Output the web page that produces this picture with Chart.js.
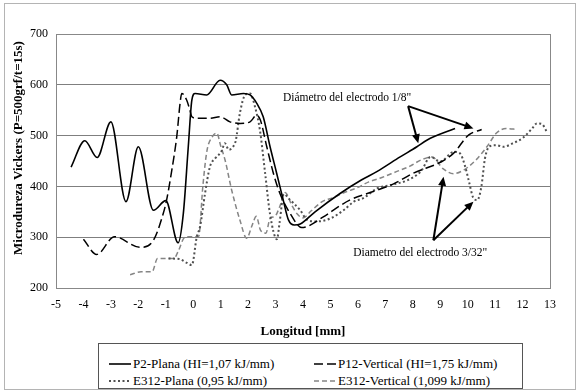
<!DOCTYPE html>
<html>
<head><meta charset="utf-8">
<title>Microdureza Vickers</title>
<script src="https://cdn.jsdelivr.net/npm/chart.js"></script>
<style>
  body { margin: 0; background: #fff; }
  #wrap { position: relative; width: 580px; height: 392px; }
  #frame { position: absolute; left: 4px; top: 3px; width: 572px; height: 387px; border: 1px solid #b4b4b4; box-sizing: border-box; }
  #chart { position: absolute; left: 0; top: 0; }
  #legend { position: absolute; left: 98px; top: 343px; width: 425px; height: 46px; border: 1px solid #555;
            box-sizing: border-box; background: #fff; font: 13px "Liberation Serif", "Times New Roman", serif; color: #000; }
  .item { position: absolute; white-space: nowrap; line-height: 14px; }
  .item svg { position: absolute; top: 5px; left: -24px; }
</style>
</head>
<body>
<div id="wrap">
  <div id="frame"></div>
  <canvas id="chart" width="580" height="392"></canvas>
  <div id="legend"></div>
</div>
<script>
// P2-Plana (HI=1,07 kJ/mm)
var p2X = [-4.45, -3.95, -3.5, -3.0, -2.45, -2.0, -1.45, -1.0, -0.55, -0.36, -0.18, -0.05, 0.07, 0.49, 0.98, 1.22, 1.4, 1.83, 2.07, 2.31, 2.55, 2.8, 3.04, 3.28, 3.47, 3.68, 3.9, 4.44, 5.35, 6.14, 6.69, 7.54, 8.15, 8.51, 9.54];
var p2Y = [438, 490, 457, 527, 370, 478, 353, 372, 289, 347, 478, 570, 583, 580, 609, 600, 580, 583, 580, 564, 537, 478, 426, 373, 334, 324, 326, 350, 386, 413, 429, 458, 478, 491, 514];

// P12-Vertical (HI=1,75 kJ/mm)
var p12X = [-4.0, -3.52, -2.87, -1.94, -1.45, -1.09, -0.97, -0.78, -0.6, -0.48, -0.42, -0.24, -0.12, -0.05, 0.13, 0.61, 0.98, 1.34, 1.71, 2.07, 2.31, 2.45, 2.68, 2.92, 3.16, 3.53, 3.95, 4.2, 4.74, 5.7, 6.56, 7.3, 8.02, 9.06, 9.48, 10.03, 10.51];
var p12Y = [296, 266, 301, 280, 294, 347, 373, 432, 498, 563, 583, 570, 550, 537, 534, 534, 537, 527, 524, 527, 540, 530, 478, 426, 386, 347, 319, 322, 340, 373, 390, 405, 426, 449, 465, 501, 512];

// E312-Plana (0,95 kJ/mm)
var e1X = [-0.9, -0.5, -0.25, -0.05, 0.13, 0.25, 0.43, 0.61, 0.8, 1.04, 1.15, 1.3, 1.45, 1.55, 1.7, 1.89, 2.07, 2.25, 2.43, 2.62, 2.8, 3.05, 3.15, 3.3, 3.5, 3.9, 4.15, 4.5, 5.0, 5.5, 5.85, 6.2, 6.7, 7.2, 7.8, 8.3, 8.65, 9.0, 9.5, 9.72, 9.91, 10.05, 10.2, 10.35, 10.5, 10.63, 10.8, 11.05, 11.3, 11.65, 12.0, 12.35, 12.52, 12.7, 12.88];
var e1Y = [258, 257, 250, 245, 301, 321, 386, 439, 455, 470, 485, 472, 478, 490, 544, 580, 583, 557, 511, 426, 345, 296, 330, 385, 375, 353, 334, 331, 337, 354, 370, 377, 396, 403, 412, 430, 458, 449, 468, 465, 439, 409, 378, 373, 400, 455, 479, 481, 478, 485, 495, 514, 524, 523, 508];

// E312-Vertical (1,099 kJ/mm)
var e2X = [-2.3, -1.9, -1.5, -1.3, -0.7, -0.55, -0.3, -0.05, 0.2, 0.35, 0.5, 0.7, 0.86, 1.0, 1.16, 1.4, 1.7, 1.95, 2.13, 2.3, 2.45, 2.65, 2.8, 2.98, 3.15, 3.35, 3.6, 3.8, 4.0, 4.3, 4.7, 5.1, 5.6, 6.0, 6.4, 6.8, 7.4, 7.9, 8.3, 8.7, 9.1, 9.48, 9.85, 10.3, 10.7, 11.05, 11.4, 11.8];
var e2Y = [226, 232, 232, 258, 258, 272, 300, 301, 302, 400, 470, 498, 505, 480, 452, 393, 334, 298, 321, 341, 314, 308, 337, 341, 360, 388, 362, 345, 338, 352, 370, 378, 390, 398, 409, 416, 429, 440, 452, 458, 435, 425, 432, 452, 478, 505, 514, 512];

var seriesNames = ['P2-Plana (HI=1,07 kJ/mm)', 'P12-Vertical (HI=1,75 kJ/mm)', 'E312-Plana (0,95 kJ/mm)', 'E312-Vertical (1,099 kJ/mm)'];
var xTitle = 'Longitud [mm]';
var yTitle = 'Microdureza Vickers (P=500grf/t=15s)';

// notes: text anchor and arrow start/tips in data units
var note1 = 'Diámetro del electrodo 1/8"';
var note1At = [3.27, 574];
var note1From = [7.83, 558];
var note1Tips = [[8.2, 485], [10.21, 514]];
var note2 = 'Diametro del electrodo 3/32"';
var note2At = [8.27, 269];
var note2From = [8.75, 294];
var note2Tips = [[9.12, 419], [10.21, 370]];

var serif = '"Liberation Serif", "Times New Roman", serif';

var styles = [
  { color: '#000', width: 1.6, dash: [] },
  { color: '#000', width: 1.5, dash: [9, 4] },
  { color: '#505050', width: 2, dash: [2, 2.5] },
  { color: '#858585', width: 1.5, dash: [5, 3] }
];

function pts(xs, ys) {
  return xs.map(function (x, i) { return { x: x, y: ys[i] }; });
}

var allData = [pts(p2X, p2Y), pts(p12X, p12Y), pts(e1X, e1Y), pts(e2X, e2Y)];

var datasets = allData.map(function (d, i) {
  return {
    label: seriesNames[i],
    data: d,
    showLine: true,
    borderColor: styles[i].color,
    borderWidth: styles[i].width,
    borderDash: styles[i].dash,
    pointRadius: 0,
    fill: false,
    cubicInterpolationMode: 'monotone'
  };
});

function arrow(ctx, x0, y0, x1, y1) {
  var a = Math.atan2(y1 - y0, x1 - x0), L = 9, W = 4;
  var c = Math.cos(a), s = Math.sin(a);
  ctx.beginPath();
  ctx.moveTo(x0, y0);
  ctx.lineTo(x1 - L * 0.8 * c, y1 - L * 0.8 * s);
  ctx.stroke();
  ctx.beginPath();
  ctx.moveTo(x1, y1);
  ctx.lineTo(x1 - L * c + W * s, y1 - L * s - W * c);
  ctx.lineTo(x1 - L * c - W * s, y1 - L * s + W * c);
  ctx.closePath();
  ctx.fill();
}

var extras = {
  id: 'extras',
  afterDatasetsDraw: function (chart) {
    var ctx = chart.ctx, a = chart.chartArea, x = chart.scales.x, y = chart.scales.y;
    ctx.save();
    // plot frame
    ctx.strokeStyle = '#888';
    ctx.lineWidth = 1;
    ctx.strokeRect(Math.round(a.left) + 0.5, Math.round(a.top) + 0.5, Math.round(a.right - a.left), Math.round(a.bottom - a.top));

    // notes
    ctx.fillStyle = '#000';
    ctx.strokeStyle = '#000';
    ctx.lineWidth = 2;
    ctx.font = '11.5px ' + serif;
    ctx.textBaseline = 'middle';
    ctx.textAlign = 'left';
    ctx.fillText(note1, x.getPixelForValue(note1At[0]), y.getPixelForValue(note1At[1]));
    ctx.textAlign = 'center';
    ctx.fillText(note2, x.getPixelForValue(note2At[0]), y.getPixelForValue(note2At[1]));
    note1Tips.forEach(function (t) {
      arrow(ctx, x.getPixelForValue(note1From[0]), y.getPixelForValue(note1From[1]), x.getPixelForValue(t[0]), y.getPixelForValue(t[1]));
    });
    note2Tips.forEach(function (t) {
      arrow(ctx, x.getPixelForValue(note2From[0]), y.getPixelForValue(note2From[1]), x.getPixelForValue(t[0]), y.getPixelForValue(t[1]));
    });

    // y axis title
    ctx.translate(19, (a.top + a.bottom) / 2 - 13);
    ctx.rotate(-Math.PI / 2);
    ctx.font = 'bold 13px ' + serif;
    ctx.textAlign = 'center';
    ctx.fillText(yTitle, 0, 0);
    ctx.restore();
  }
};

Chart.defaults.font.family = serif;
Chart.defaults.color = '#000';

new Chart(document.getElementById('chart').getContext('2d'), {
  type: 'scatter',
  data: { datasets: datasets },
  options: {
    responsive: false,
    animation: false,
    layout: { padding: { left: 4, right: 30, top: 34, bottom: 52 } },
    plugins: { legend: { display: false }, tooltip: { enabled: false } },
    scales: {
      x: {
        type: 'linear', min: -5, max: 13,
        ticks: { stepSize: 1, padding: 10, font: { size: 12 }, color: '#000', maxRotation: 0 },
        grid: { display: false, drawTicks: false },
        border: { display: false },
        title: { display: true, text: xTitle, font: { size: 13, weight: 'bold' }, padding: { top: 0, bottom: 1 } },
        afterFit: function (s) { s.height = 52; }
      },
      y: {
        min: 200, max: 700,
        ticks: { stepSize: 100, padding: 8, font: { size: 12 }, color: '#000' },
        grid: { color: '#7f7f7f', lineWidth: 1, drawTicks: false },
        border: { display: false },
        afterFit: function (s) { s.width = 52; }
      }
    }
  },
  plugins: [extras]
});

// legend box, 2 x 2
var legendPos = [[34, 13], [239, 13], [34, 30], [239, 30]];
var lg = document.getElementById('legend');
seriesNames.forEach(function (name, i) {
  var d = document.createElement('div');
  d.className = 'item';
  d.style.left = legendPos[i][0] + 'px';
  d.style.top = legendPos[i][1] + 'px';
  var st = styles[i];
  d.innerHTML = '<svg width="22" height="4"><line x1="0" y1="2" x2="22" y2="2" stroke="' + st.color +
    '" stroke-width="' + st.width + '" stroke-dasharray="' + (st.dash.length ? st.dash.join(',') : 'none') + '"/></svg>' + name;
  lg.appendChild(d);
});
</script>
</body>
</html>
